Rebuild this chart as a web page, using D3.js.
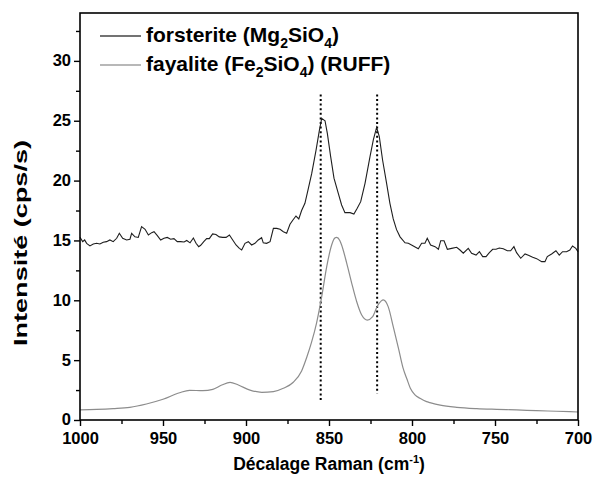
<!DOCTYPE html>
<html><head><meta charset="utf-8">
<script src="https://cdn.jsdelivr.net/npm/d3@7"></script>
<style>
html,body{margin:0;padding:0;background:#fff;}
svg text{font-family:"Liberation Sans",Arial,sans-serif;font-weight:bold;fill:#000;}
</style></head>
<body>
<svg id="chart" width="594" height="480"></svg>
<script>
// Forsterite (Mg2SiO4) spectrum: Raman shift (cm-1) and intensity (cps/s)
const forsteriteShift = [1000,998.4,997.2,996,994,992,990,988,986,984,982,980,977.9,976.3,974.3,971.9,969.9,968.9,966.9,964.9,962.9,960.8,958.8,956.8,955.4,953.4,951.4,949.4,947.4,945.4,943.4,941.4,939.4,937.3,935.7,933.7,931.7,930.1,928.5,927.3,925.3,923.7,922.1,920.1,918.1,916.1,914.1,912,910,908,906,904,902.6,900.6,898.6,896.6,894.6,892.6,890.6,889.6,887.6,885.5,883.5,881.5,879.5,877.5,875.5,873.5,871.5,869.9,868.2,866.5,864.5,862.5,860.4,857.8,855.8,854.4,852.4,851,849,847,844.4,842.4,840.4,837.3,835,833,830.9,828.3,825.3,823.3,821.3,819.7,817.7,815.3,813.3,811.3,809.3,807.2,804.2,802.2,799.2,796.2,794.2,792.2,790.8,788.8,786.1,784.1,782.7,780.7,778.7,776.1,773.1,771.1,769.1,766.1,764.1,761.4,759.4,757.4,755.4,753.4,751.4,749.4,747.4,745,742.6,740.6,738.6,737,734.5,731.9,729.9,727.3,724.9,721.9,719.9,718.5,715.9,713.3,711.3,709.3,706.9,704.9,703.3,701.3,700];
const forsteriteIntensity = [15.26,14.9,15.04,14.76,14.54,14.7,14.76,14.7,14.85,14.9,15.04,14.9,15.18,15.6,15.18,15.04,15.1,15.6,15.3,15.25,16.15,15.93,15.46,15.65,15.73,15.4,15.04,15.18,15.25,15.1,15.15,14.9,14.9,14.87,15.0,14.8,15.2,14.76,14.48,14.6,14.93,15.15,15.15,15.55,15.5,15.3,15.26,15.26,15.46,15.04,14.62,14.34,14.2,14.76,14.9,14.62,14.76,15.04,15.23,14.8,14.76,14.9,16.01,16.01,15.93,15.73,15.6,16.35,16.75,17.04,16.8,17.5,18.1,19.3,20.6,22.55,24.2,25.2,25.0,23.95,22.0,20.2,18.94,17.96,17.32,17.32,17.2,17.68,18.24,19.77,22.0,23.4,24.45,23.67,21.7,19.77,18.1,16.8,15.9,15.3,14.8,14.76,14.54,14.31,14.76,14.76,15.18,14.62,14.48,14.26,14.98,14.98,14.26,14.34,14.43,14.2,13.93,14.34,13.93,13.78,14.06,13.65,13.65,13.98,14.26,14.26,14.37,14.31,14.14,14.14,14.48,13.98,13.51,13.87,13.76,13.59,13.48,13.23,13.23,13.65,13.87,14.14,13.78,14.06,14.06,14.2,14.54,14.34,14.06];

// Fayalite (Fe2SiO4) spectrum (RUFF)
const fayaliteShift = [1000,990,980,970,960,950,940,934,926,920,914.6,909.6,904.6,897.6,890.5,883.5,877.5,871.5,866.5,863.5,860.5,857.5,854.4,851.4,848.4,846.5,845.4,843.5,842.4,839.3,836.3,833.3,830.3,826.9,823.7,820.9,818.5,817.3,814.3,811.3,808,805.5,803,801,798.2,795.2,791.2,789.2,783,773,761,749,737,725,713,700];
const fayaliteIntensity = [0.84,0.88,0.95,1.06,1.34,1.73,2.28,2.48,2.45,2.56,2.92,3.15,2.92,2.5,2.31,2.37,2.65,3.15,4.1,5.2,6.5,8.1,10.3,12.8,14.62,15.2,15.26,15.0,14.62,13.09,11.42,9.88,8.77,8.35,8.63,9.5,9.95,10.03,9.45,7.8,5.9,4.4,3.4,2.65,2.1,1.81,1.53,1.45,1.24,1.06,0.95,0.89,0.84,0.78,0.73,0.67];

// Reference band positions (dotted lines)
const bandShift = [855, 821];
const bandTop = [27.2, 27.2];
const bandBottom = [1.5, 2.2];

const xTicks = [1000, 950, 900, 850, 800, 750, 700];
const yTicks = [0, 5, 10, 15, 20, 25, 30];

const seriesNames = ["forsterite", "fayalite"];

const svg = d3.select("#chart");
const L = 80, R = 578, T = 13, B = 420;
const x = d3.scaleLinear().domain([1000, 700]).range([L, R]);
const y = d3.scaleLinear().domain([0, 34]).range([B, T]);

// dotted band lines
bandShift.forEach((b, i) => {
  svg.append("line")
    .attr("x1", x(b)).attr("x2", x(b))
    .attr("y1", y(bandTop[i])).attr("y2", y(bandBottom[i]))
    .attr("stroke", "#000").attr("stroke-width", 2)
    .attr("stroke-dasharray", "2,2.6");
});

const fay = fayaliteShift.map((s, i) => [s, fayaliteIntensity[i]]);
svg.append("path").datum(fay)
  .attr("d", d3.line().x(d => x(d[0])).y(d => y(d[1])).curve(d3.curveMonotoneX))
  .attr("fill", "none").attr("stroke", "#8c8c8c").attr("stroke-width", 1.2);

const fo = forsteriteShift.map((s, i) => [s, forsteriteIntensity[i]]);
svg.append("path").datum(fo)
  .attr("d", d3.line().x(d => x(d[0])).y(d => y(d[1])))
  .attr("fill", "none").attr("stroke", "#1e1e1e").attr("stroke-width", 1.1);

// axes
const xAxis = d3.axisBottom(x).tickValues(xTicks).tickSize(6).tickPadding(6).tickFormat(d3.format("d"));
const gx = svg.append("g").attr("transform", `translate(0,${B})`).call(xAxis);
const xMinor = d3.axisBottom(x).tickValues(d3.range(975, 700, -50)).tickSize(4).tickFormat("");
svg.append("g").attr("transform", `translate(0,${B})`).call(xMinor);

const yAxis = d3.axisLeft(y).tickValues(yTicks).tickSize(6).tickPadding(3);
const gy = svg.append("g").attr("transform", `translate(${L},0)`).call(yAxis);
const yMinor = d3.axisLeft(y).tickValues(d3.range(2.5, 34, 5)).tickSize(4).tickFormat("");
svg.append("g").attr("transform", `translate(${L},0)`).call(yMinor);

svg.selectAll(".domain").remove();
svg.selectAll(".tick line").attr("stroke", "#000").attr("stroke-width", 1.4);
gx.selectAll("text").style("font-size", "16.5px").attr("dy", "0.72em");
gy.selectAll("text").style("font-size", "16.5px").attr("dy", "0.3em");

// frame
svg.append("rect").attr("x", L).attr("y", T).attr("width", R - L).attr("height", B - T)
  .attr("fill", "none").attr("stroke", "#000").attr("stroke-width", 1.6);

// axis titles
const xt = svg.append("text").attr("x", (L + R) / 2).attr("y", 470)
  .attr("text-anchor", "middle").style("font-size", "17.5px");
xt.append("tspan").text("Décalage Raman (cm");
xt.append("tspan").attr("dy", -7).style("font-size", "11px").text("-1");
xt.append("tspan").attr("dy", 7).text(")");

svg.append("text").attr("transform", "translate(27,243) rotate(-90)")
  .attr("text-anchor", "middle").style("font-size", "18px")
  .attr("textLength", 206).attr("lengthAdjust", "spacingAndGlyphs")
  .text("Intensité (cps/s)");

// legend
const legendColors = ["#444", "#a0a0a0"];
const legendY = [36, 65];
seriesNames.forEach((n, i) => {
  svg.append("line").attr("x1", 100).attr("x2", 141)
    .attr("y1", legendY[i]).attr("y2", legendY[i])
    .attr("stroke", legendColors[i]).attr("stroke-width", 1.3);
});
function legendText(yb, parts) {
  const t = svg.append("text").attr("x", 146).attr("y", yb).style("font-size", "21px");
  parts.forEach(p => {
    const s = t.append("tspan").text(p[0]);
    if (p[1] === "sub") s.attr("dy", 6).style("font-size", "14px");
    if (p[1] === "up") s.attr("dy", -6);
  });
}
legendText(42, [["forsterite (Mg"], ["2", "sub"], ["SiO", "up"], ["4", "sub"], [")", "up"]]);
legendText(71, [["fayalite (Fe"], ["2", "sub"], ["SiO", "up"], ["4", "sub"], [") (RUFF)", "up"]]);
</script>
</body></html>
